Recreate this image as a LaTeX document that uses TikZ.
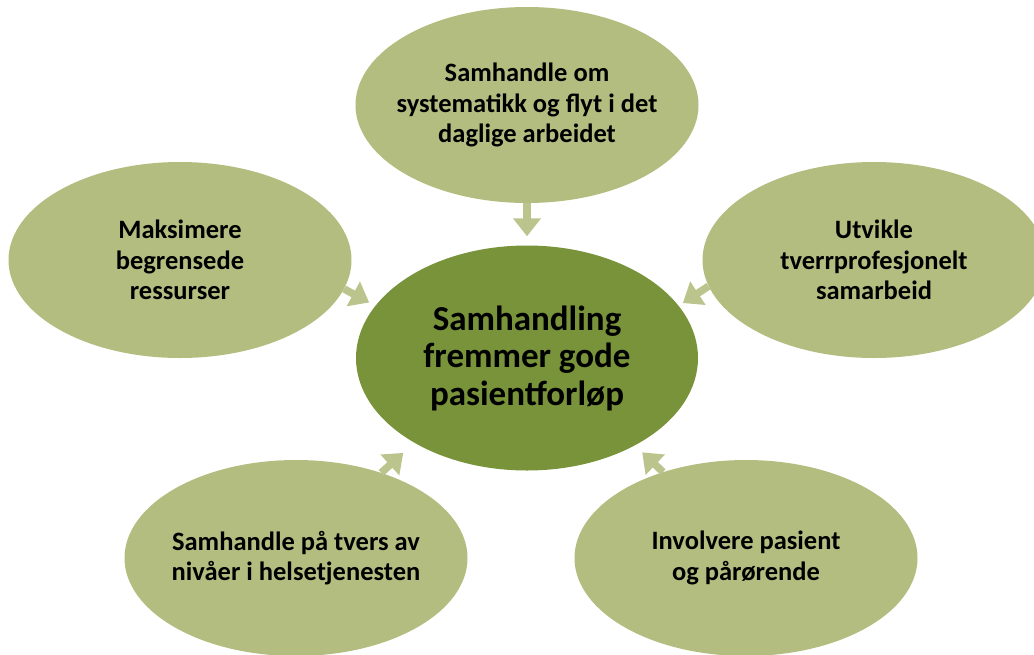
\documentclass[tikz,border=0pt]{standalone}
\usepackage{fontspec}
\setmainfont{Carlito}
\usetikzlibrary{shapes.geometric,arrows.meta}
\definecolor{outerfill}{HTML}{B3BD7F}
\definecolor{centerfill}{HTML}{78933A}
\definecolor{arrowcol}{HTML}{BAC48C}
\tikzset{
  outerell/.style={ellipse, fill=outerfill, draw=none, inner sep=0pt,
    minimum width=343pt, minimum height=196pt},
  centerell/.style={ellipse, fill=centerfill, draw=none, inner sep=0pt,
    minimum width=342pt, minimum height=225pt},
  outertxt/.style={align=center, font=\fontsize{26.5}{30.5}\selectfont\bfseries, text=black},
  centertxt/.style={align=center, font=\fontsize{35}{37.5}\selectfont\bfseries, text=black},
  conn/.style={draw=arrowcol, line width=7.5pt,
    -{Triangle[width=27pt,length=18pt]}, arrowcol}
}
\begin{document}
\begin{tikzpicture}[x=1pt,y=-1pt]
\useasboundingbox (0,0) rectangle (1034,654);
\node[centerell, label={[centertxt]center:Samhandling\\fremmer gode\\pasientforløp}] (C) at (527,358) {};
\node[outerell, label={[outertxt]center:Samhandle om\\systematikk og flyt i det\\daglige arbeidet}] (T) at (527,105) {};
\node[outerell, label={[outertxt]center:Maksimere\\begrensede\\ressurser}] (L) at (180,260) {};
\node[outerell, label={[outertxt]center:Utvikle\\tverrprofesjonelt\\samarbeid}] (R) at (874,260) {};
\node[outerell, label={[outertxt]center:Samhandle på tvers av\\nivåer i helsetjenesten}] (BL) at (296,558) {};
\node[outerell, label={[outertxt]center:Involvere pasient\\og pårørende}] (BR) at (746,558) {};
\draw[conn, shorten >=9pt] (T.south) -- (C.north);
\draw[conn, shorten >=7pt] (L.-10.5) -- (C.161);
\draw[conn, shorten >=5pt] (R.189.8) -- (C.19);
\draw[conn, shorten >=15pt] (BL.45) -- (C.217);
\draw[conn, shorten >=10pt] (BR.134) -- (C.-39.3);
\end{tikzpicture}
\end{document}
